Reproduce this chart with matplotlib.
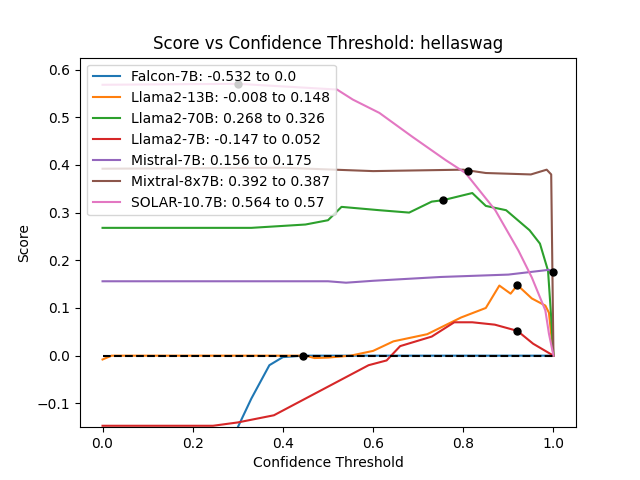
import matplotlib
matplotlib.use("Agg")
import matplotlib.pyplot as plt

names = ["Falcon-7B", "Llama2-13B", "Llama2-70B", "Llama2-7B", "Mistral-7B", "Mixtral-8x7B", "SOLAR-10.7B"]
start_vals = [-0.532, -0.008, 0.268, -0.147, 0.156, 0.392, 0.564]
best_vals = [0.0, 0.148, 0.326, 0.052, 0.175, 0.387, 0.57]
best_x = [0.445, 0.92, 0.755, 0.92, 1.0, 0.81, 0.3]

falcon_x = [0.0, 0.15, 0.22, 0.27, 0.3, 0.33, 0.35, 0.37, 0.4, 0.445, 0.99, 1.0]
falcon_y = [-0.532, -0.532, -0.4, -0.25, -0.15, -0.09, -0.055, -0.02, -0.003, 0.0, 0.0, 0.0]
l13_x = [0.0, 0.02, 0.3, 0.45, 0.47, 0.5, 0.55, 0.6, 0.645, 0.72, 0.795, 0.85, 0.88, 0.905, 0.92, 0.952, 0.982, 0.99, 1.0]
l13_y = [-0.008, 0.0, 0.0, 0.0, -0.005, -0.004, 0.0, 0.01, 0.03, 0.045, 0.08, 0.10, 0.147, 0.13, 0.148, 0.12, 0.105, 0.09, 0.0]
l70_x = [0.0, 0.33, 0.45, 0.5, 0.53, 0.614, 0.68, 0.73, 0.755, 0.82, 0.85, 0.895, 0.947, 0.97, 0.988, 0.995, 1.0]
l70_y = [0.268, 0.268, 0.275, 0.284, 0.312, 0.305, 0.30, 0.323, 0.326, 0.341, 0.314, 0.305, 0.263, 0.235, 0.178, 0.08, 0.0]
l7_x = [0.0, 0.245, 0.3, 0.38, 0.45, 0.52, 0.59, 0.63, 0.66, 0.73, 0.78, 0.82, 0.87, 0.92, 0.955, 1.0]
l7_y = [-0.147, -0.147, -0.14, -0.125, -0.09, -0.055, -0.02, -0.01, 0.02, 0.04, 0.07, 0.07, 0.065, 0.052, 0.025, 0.0]
mis_x = [0.0, 0.5, 0.54, 0.6, 0.75, 0.9, 0.99, 1.0]
mis_y = [0.156, 0.156, 0.153, 0.157, 0.165, 0.17, 0.18, 0.175]
mix_x = [0.0, 0.4, 0.6, 0.8, 0.85, 0.95, 0.985, 0.995, 1.0]
mix_y = [0.392, 0.394, 0.387, 0.39, 0.383, 0.38, 0.39, 0.38, 0.0]
sol_x = [0.0, 0.3, 0.52, 0.555, 0.614, 0.687, 0.761, 0.805, 0.871, 0.922, 0.952, 0.982, 0.99, 1.0]
sol_y = [0.568, 0.57, 0.558, 0.537, 0.509, 0.459, 0.41, 0.383, 0.305, 0.221, 0.164, 0.095, 0.046, 0.0]

series = [(falcon_x, falcon_y), (l13_x, l13_y), (l70_x, l70_y), (l7_x, l7_y),
          (mis_x, mis_y), (mix_x, mix_y), (sol_x, sol_y)]

fig, ax = plt.subplots(figsize=(6.4, 4.8), dpi=100)
for name, (xs, ys), s, b in zip(names, series, start_vals, best_vals):
    ax.plot(xs, ys, label=f"{name}: {s} to {b}")
ax.plot([0, 1], [0, 0], "k--")
ax.scatter(best_x, best_vals, color="black", s=25, zorder=3)
ax.set_ylim(-0.15, 0.625)
ax.set_xlabel("Confidence Threshold")
ax.set_ylabel("Score")
ax.set_title("Score vs Confidence Threshold: hellaswag")
ax.legend(loc="upper left")
fig.savefig("out.png")
